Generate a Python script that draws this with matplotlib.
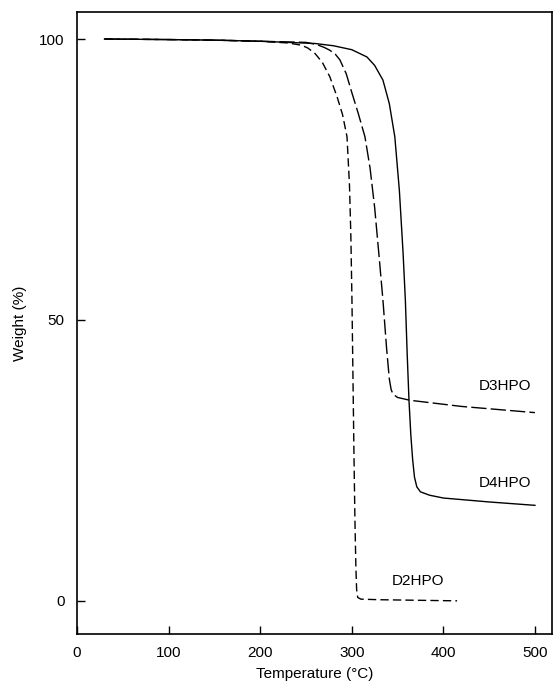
import matplotlib
matplotlib.use("Agg")
import matplotlib.pyplot as plt

plt.rcParams['font.family'] = ['Liberation Sans', 'DejaVu Sans']

# Data (temperature °C, weight %)
d2_t = [30, 100, 150, 200, 230, 245, 252, 260, 268, 276, 284, 290, 294.8,
        297.5, 299, 300.2, 301.3, 302.4, 303.5, 304.5, 305.3, 306.5, 310, 330, 415]
d2_w = [100, 99.9, 99.8, 99.6, 99.3, 98.9, 98.4, 97.4, 95.8, 93.3, 89.7, 86.5, 82.6,
        74, 65, 53.6, 40, 26, 14, 6, 2, 0.6, 0.3, 0.2, 0.0]

d3_t = [30, 100, 150, 200, 250, 262, 270, 276, 282, 287, 294, 300, 307, 314.4,
        320, 325, 330, 334, 338, 341, 343, 345, 350, 363.5, 420, 500]
d3_w = [100, 99.9, 99.8, 99.6, 99.4, 99.0, 98.5, 98.0, 97.3, 96.3, 93.8, 90.5, 86.8, 82.6,
        77, 70, 61, 53.6, 45, 39.5, 37.6, 36.8, 36.2, 35.7, 34.6, 33.5]

d4_t = [30, 100, 150, 200, 260, 280, 300, 316.6, 325, 334, 341, 347, 352, 356,
        358.5, 360.5, 362.5, 364.5, 366.5, 368.5, 371, 375, 385, 400, 450, 500]
d4_w = [100, 99.9, 99.8, 99.6, 99.2, 98.8, 98.1, 96.8, 95.3, 92.7, 88.5, 82.6, 73, 62,
        53.6, 44, 35.6, 29.5, 25.1, 22, 20.3, 19.4, 18.8, 18.3, 17.6, 17.0]

labels = ["D2HPO", "D3HPO", "D4HPO"]
label_pos = [(372, 3.6), (467, 38.3), (467, 21.0)]

x_ticks = [0, 100, 200, 300, 400, 500]
y_ticks = [0, 50, 100]

fig = plt.figure(figsize=(5.54, 6.88), dpi=100)
ax = fig.add_axes([0.139, 0.0785, 0.858, 0.904])

ax.plot(d2_t, d2_w, color='black', lw=1.0, linestyle=(0, (6, 3)))
ax.plot(d3_t, d3_w, color='black', lw=1.0, linestyle=(0, (11, 3)))
ax.plot(d4_t, d4_w, color='black', lw=1.0, linestyle='-')

for lab, (x, y) in zip(labels, label_pos):
    ax.text(x, y, lab, ha='center', va='center', fontsize=11)

ax.set_xlim(0, 519)
ax.set_ylim(-5.9, 104.8)
ax.set_xticks(x_ticks)
ax.set_yticks(y_ticks)
ax.tick_params(direction='in', length=6, width=1, labelsize=11, pad=9)
ax.tick_params(top=False, right=False)
for s in ax.spines.values():
    s.set_linewidth(1.2)

ax.set_xlabel('Temperature (°C)', fontsize=11, labelpad=5)
ax.set_ylabel('Weight (%)', fontsize=11, labelpad=9)

fig.savefig('out.png', dpi=100)
